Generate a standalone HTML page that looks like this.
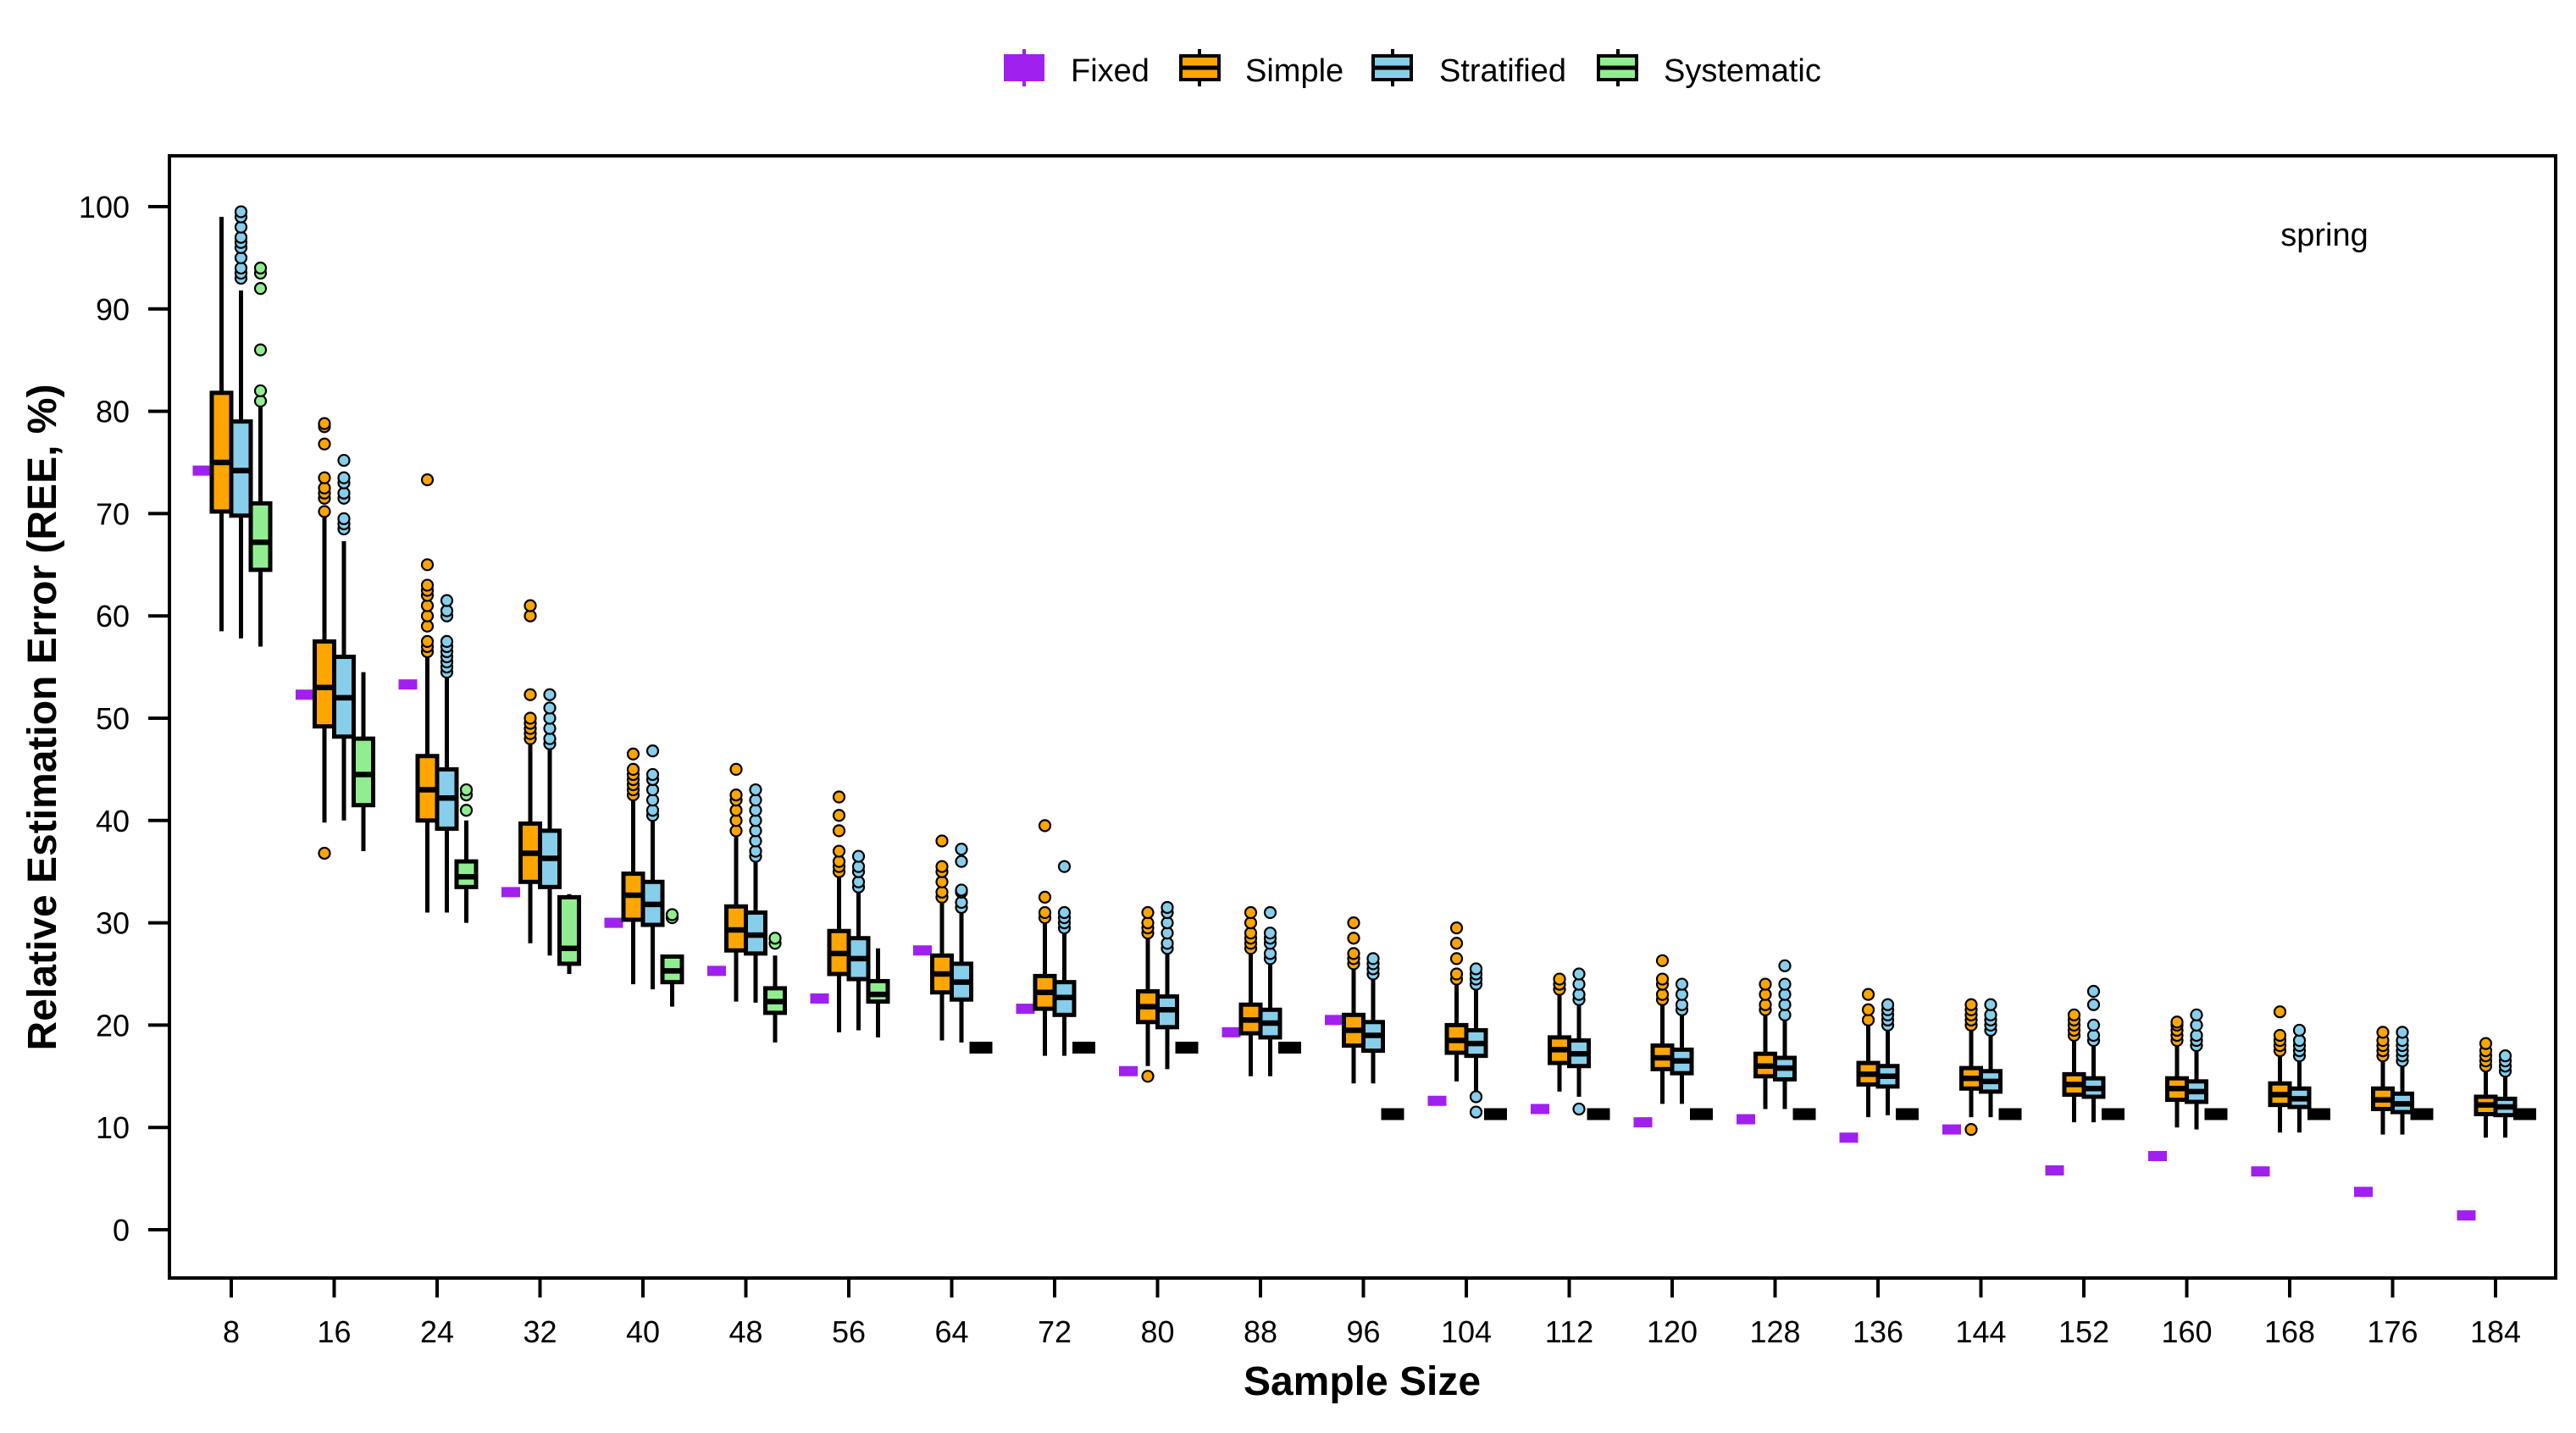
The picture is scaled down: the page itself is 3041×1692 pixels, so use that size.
<!DOCTYPE html>
<html><head><meta charset="utf-8"><style>
html,body{margin:0;padding:0;background:#fff;}
svg{display:block;font-family:"Liberation Sans",Arial,sans-serif;}
</style></head><body>
<svg id="chart" width="3041" height="1692" viewBox="0 0 3041 1692" xmlns="http://www.w3.org/2000/svg">
<g id="legend">
  <g>
    <rect x="1185" y="64" width="48" height="32" fill="#a020f0"/>
    <line x1="1209" y1="58" x2="1209" y2="102" stroke="#a020f0" stroke-width="4"/>
    <text x="1264" y="96" font-size="38">Fixed</text>
  </g>
  <g>
    <line x1="1416" y1="58" x2="1416" y2="102" stroke="#000" stroke-width="4"/>
    <rect x="1394" y="66" width="45" height="28" fill="#ffa500" stroke="#000" stroke-width="4"/>
    <line x1="1394" y1="80" x2="1439" y2="80" stroke="#000" stroke-width="5"/>
    <text x="1470" y="96" font-size="38">Simple</text>
  </g>
  <g>
    <line x1="1644" y1="58" x2="1644" y2="102" stroke="#000" stroke-width="4"/>
    <rect x="1621" y="66" width="45" height="28" fill="#87ceeb" stroke="#000" stroke-width="4"/>
    <line x1="1621" y1="80" x2="1666" y2="80" stroke="#000" stroke-width="5"/>
    <text x="1699" y="96" font-size="38">Stratified</text>
  </g>
  <g>
    <line x1="1910" y1="58" x2="1910" y2="102" stroke="#000" stroke-width="4"/>
    <rect x="1887" y="66" width="45" height="28" fill="#90ee90" stroke="#000" stroke-width="4"/>
    <line x1="1887" y1="80" x2="1932" y2="80" stroke="#000" stroke-width="5"/>
    <text x="1964" y="96" font-size="38">Systematic</text>
  </g>
</g>
<rect x="200" y="184" width="2817" height="1325" fill="none" stroke="#000" stroke-width="4"/>
<text x="2744" y="290" font-size="38" text-anchor="middle">spring</text>
<text x="1608" y="1647" font-size="48" font-weight="bold" text-anchor="middle">Sample Size</text>
<text transform="translate(66,847) rotate(-90)" font-size="48" font-weight="bold" text-anchor="middle">Relative Estimation Error (REE, %)</text>
<g id="yaxis"></g>
<g id="xaxis"></g>
<g id="marks"></g>
</svg>
<script>
const categories=[8,16,24,32,40,48,56,64,72,80,88,96,104,112,120,128,136,144,152,160,168,176,184];
const yTicks=[0,10,20,30,40,50,60,70,80,90,100];
const fixedVals=[74.2,52.3,53.3,33,30,25.3,22.6,27.3,21.6,15.5,19.3,20.5,12.6,11.8,10.5,10.8,9,9.8,5.8,7.2,5.7,3.7,1.4];
// Simple
const simpleLo=[58.5,39.8,31,28,24,22.3,19.3,18.5,17,16,15,14.3,14.5,13.5,12.3,11.8,11,11,10.5,10,9.5,9.3,9];
const simpleQ1=[70.2,49.2,40,34,30.3,27.3,25,23.2,21.6,20.3,19.2,18,17.3,16.3,15.7,15,14.2,13.8,13.2,12.7,12.2,11.8,11.3];
const simpleMed=[75,53,43,36.8,32.7,29.3,27,25,23.2,21.8,20.5,19.5,18.5,17.6,16.8,16,15.2,14.8,14.2,13.8,13.2,12.7,12.2];
const simpleQ3=[81.8,57.5,46.3,39.7,34.8,31.6,29.2,26.8,24.8,23.3,22,21,20,18.8,18,17.2,16.3,15.8,15.2,14.8,14.3,13.8,13];
const simpleHi=[99,70,56,47.5,42,38.5,34.5,32,30,28.5,27,25.5,24,23,22,21,20,19.5,18.5,18,17,16.5,15.5];
const simpleOut=[[],[36.8,70.2,71.5,72,72.5,73.5,76.8,78.5,78.8],[56.5,57,57.5,59,60,61,62,62.5,63,65,73.3],[48,48.5,49,49.5,50,52.3,60,61],[42.5,43,43.5,44,44.5,45,46.5],[39,40,41,42,42.5,45],[35,35.5,36,37,39,40.5,42.3],[32.5,33,34,35,35.5,38],[30.5,31,32.5,39.5],[15,29,29.5,30,31],[27.5,28,28.5,29,30,31],[26,26.5,27,28.5,30],[24.5,25,26.5,28,29.5],[23.5,24,24.5],[22.5,23,24,24.5,26.3],[21.5,22,23,24],[20.5,21.5,23],[9.8,20,20.5,21,21.5,22],[19,19.5,20,20.5,21],[18.5,19,19.5,20,20.3],[17.5,18,18.5,19,21.3],[17,17.5,18,18.5,19.3],[16,16.5,17,17.5,18.2]];
// Stratified
const stratLo=[57.8,40,31,26.8,23.5,22.2,19.5,18.3,17,15.7,15,14.3,13.5,13,12.3,11.8,11.2,11,10.5,9.8,9.5,9.3,9];
const stratQ1=[69.8,48.2,39.2,33.5,29.8,27,24.5,22.5,21,19.8,18.8,17.5,17,16,15.3,14.7,14,13.5,13,12.5,12,11.5,11.2];
const stratMed=[74.2,52,42.2,36.3,31.8,28.8,26.5,24.2,22.7,21.5,20.2,19,18.2,17.2,16.5,15.8,15,14.5,13.8,13.5,12.8,12.3,12];
const stratQ3=[79,56,45,39,34,31,28.5,26,24.2,22.8,21.5,20.3,19.5,18.5,17.6,16.8,16,15.5,14.8,14.5,13.8,13.3,12.8];
const stratHi=[91.8,67.3,54,47,40,36,33,31,29,27,26,24.5,23.5,22,21,20.5,19.5,19,18,17.5,16.5,16,15];
const stratOut=[[93,93.5,94,95,96,96.5,97,98,99,99.5],[68.5,69,69.5,71.5,72,73,73.5,75.2],[54.5,55,55.5,56,56.5,57,57.5,60,60.5,61.5],[47.5,48,49,50,51,52.3],[40.5,41,42,43,44,44.5,46.8],[36.5,37,38,39,40,41,42,43],[33.5,34,35,35.5,36.5],[31.5,32,33,33.2,36,37.2],[29.5,30,30.5,31,35.5],[27.5,28,29,30,31,31.5],[26.5,27,28,28.5,29,31],[25,25.5,26,26.5],[11.5,13,24,24.5,25,25.5],[11.8,22.5,23,24,25],[21.5,22,23,24],[21,22,23,24,25.8],[20,20.5,21,21.5,22],[19.5,20,20.5,21,22],[18.5,19,20,22,23.3],[18,18.5,19,20,21],[17,17.5,18,18.5,19.5],[16.5,17,17.5,18,18.5,19.3],[15.5,16,16.5,17]];
// Systematic
const systLo=[57,37,30,25,21.8,18.3,18.8,17.8,17.8,17.8,17.8,11.3,11.3,11.3,11.3,11.3,11.3,11.3,11.3,11.3,11.3,11.3,11.3];
const systQ1=[64.5,41.5,33.5,26,24.2,21.2,22.3,17.5,17.5,17.5,17.5,11,11,11,11,11,11,11,11,11,11,11,11];
const systMed=[67.2,44.5,34.5,27.5,25.3,22.3,23,17.8,17.8,17.8,17.8,11.3,11.3,11.3,11.3,11.3,11.3,11.3,11.3,11.3,11.3,11.3,11.3];
const systQ3=[71,48,36,32.5,26.7,23.6,24.3,18.1,18.1,18.1,18.1,11.6,11.6,11.6,11.6,11.6,11.6,11.6,11.6,11.6,11.6,11.6,11.6];
const systHi=[81,54.5,40,32.8,26.5,26.8,27.5,17.8,17.8,17.8,17.8,11.3,11.3,11.3,11.3,11.3,11.3,11.3,11.3,11.3,11.3,11.3,11.3];
const systOut=[[81,82,86,92,93.5,94],[],[41,42.5,43],[],[30.5,30.8],[28,28.5],[],[],[],[],[],[],[],[],[],[],[],[],[],[],[],[],[]];

const NS="http://www.w3.org/2000/svg";
function yS(v){return 1452-12.08*v;}
function xS(i){return 273+i*121.5;}
const BW=23;
function mk(tag,attrs,parent){const e=document.createElementNS(NS,tag);for(const k in attrs)e.setAttribute(k,attrs[k]);parent.appendChild(e);return e;}
const yax=document.getElementById('yaxis'),xax=document.getElementById('xaxis'),marks=document.getElementById('marks');
yTicks.forEach(t=>{
  const l=mk('line',{x1:175,x2:200,y1:yS(t),y2:yS(t),stroke:'#000','stroke-width':4},yax);
  
  
  const tx=mk('text',{x:153,y:yS(t)+13,'font-size':36,'text-anchor':'end'},yax);
  tx.textContent=t;
  
  
});
categories.forEach((c,i)=>{
  const l=mk('line',{x1:xS(i),x2:xS(i),y1:1509,y2:1532,stroke:'#000','stroke-width':4},xax);
  
  
  const tx=mk('text',{x:xS(i),y:1585,'font-size':36,'text-anchor':'middle'},xax);
  tx.textContent=c;
  
  
});
function box(g,cx,lo,q1,md,q3,hi,outs,fill,name){
  const grp=mk('g',{},g);
  
  
  mk('line',{x1:cx,x2:cx,y1:yS(lo),y2:yS(hi),stroke:'#000','stroke-width':5},grp);
  const flat=(q3-q1)<1;
  const top=yS(q3),bot=yS(q1);
  if(flat){
    mk('rect',{x:cx-BW/2-2,y:yS(md)-7,width:BW+4,height:14,fill:'#000'},grp);
  } else {
    mk('rect',{x:cx-BW/2,y:top,width:BW,height:bot-top,fill:fill,stroke:'#000','stroke-width':5},grp);
    mk('line',{x1:cx-BW/2,x2:cx+BW/2,y1:yS(md),y2:yS(md),stroke:'#000','stroke-width':6.5},grp);
  }
  outs.forEach(o=>{mk('circle',{cx:cx,cy:yS(o),r:6.5,fill:fill,stroke:'#000','stroke-width':2.2},grp);});
}
categories.forEach((c,i)=>{
  const g=mk('g',{},marks);
  
  
  const x0=xS(i);
  const f=mk('rect',{x:x0-1.5*BW-11,y:yS(fixedVals[i])-6,width:22,height:12,fill:'#a020f0'},g);
  
  
  box(g,x0-BW/2,simpleLo[i],simpleQ1[i],simpleMed[i],simpleQ3[i],simpleHi[i],simpleOut[i],'#ffa500','simple-box-'+c);
  box(g,x0+BW/2,stratLo[i],stratQ1[i],stratMed[i],stratQ3[i],stratHi[i],stratOut[i],'#87ceeb','stratified-box-'+c);
  box(g,x0+1.5*BW,systLo[i],systQ1[i],systMed[i],systQ3[i],systHi[i],systOut[i],'#90ee90','systematic-box-'+c);
});
</script>
</body></html>
